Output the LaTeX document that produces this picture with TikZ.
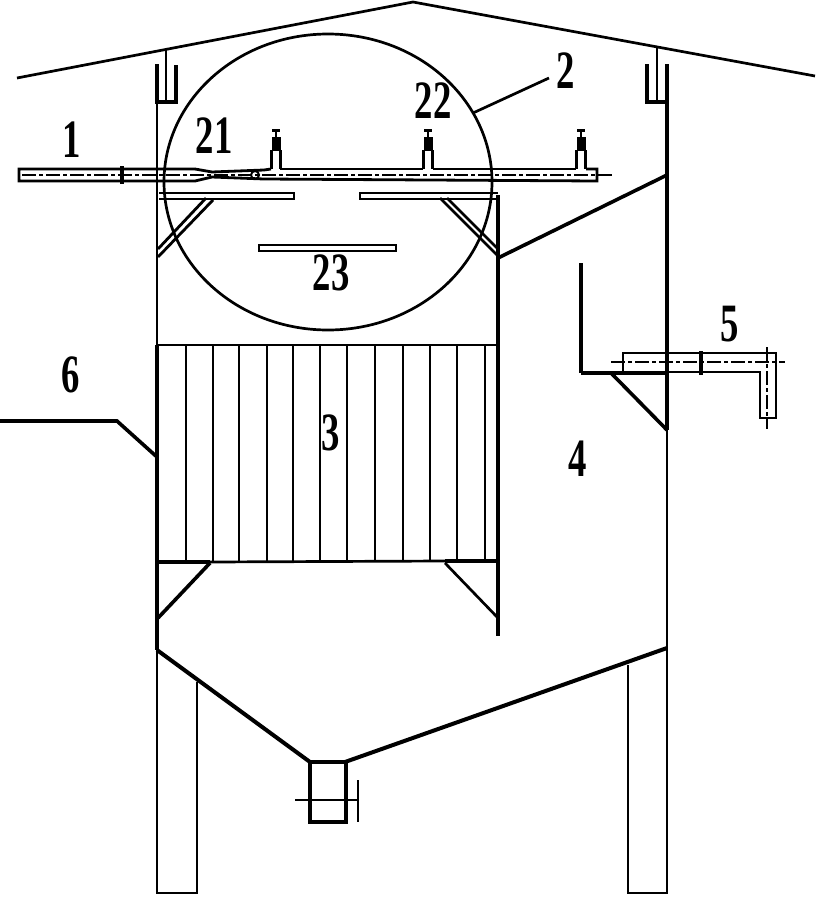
\documentclass[tikz,border=0pt]{standalone}
\usepackage{fontspec}
\setmainfont{Liberation Serif}
\tikzset{
    numlabel/.style={font=\bfseries\fontsize{54}{54}\selectfont, xscale=0.68, inner sep=0pt},
    thinline/.style={line width=2pt},
    wallline/.style={line width=2.7pt},
    thickline/.style={line width=3.6pt},
    axisline/.style={line width=1.8pt, dash pattern=on 14pt off 3pt on 4pt off 3pt},
    pipeline/.style={line width=2.8pt, line join=miter}
}
\begin{document}
\begin{tikzpicture}[x=1pt, y=-1pt]
    \useasboundingbox (0,0) rectangle (816,897);
    % roof and hangers
    \draw[wallline] (17,78) -- (413,2) -- (815,76);
    \draw[thickline] (157,64) -- (157,102) -- (176,102) -- (176,65);
    \draw[wallline] (166,49) -- (166,102);
    \draw[thickline] (647,64) -- (647,102) -- (667,102) -- (667,64);
    \draw[wallline] (657,47) -- (657,102);
    % walls
    \draw[wallline] (157,102) -- (157,345);
    \draw[thickline] (157,345) -- (157,650);
    \draw[thinline] (157,650) -- (157,893) -- (197,893) -- (197,682);
    \draw[thickline] (667,102) -- (667,430);
    \draw[wallline] (667,430) -- (667,648);
    \draw[thinline] (667,648) -- (667,893) -- (628,893) -- (628,665);
    \draw[thickline] (498,195) -- (498,636);
    \draw[thickline] (498,258) -- (667,175);
    % hopper
    \draw[line width=4pt] (157,650) -- (310,762);
    \draw[line width=4pt] (345,762) -- (667,648);
    \draw[line width=4.4pt] (310,762) rectangle (346,822);
    \draw[thinline] (295,800) -- (358,800);
    \draw[wallline] (358,780) -- (358,822);
    % heat exchanger
    \draw[thinline] (157,345) -- (498,345);
    \draw[line width=4pt] (157,562) -- (210,562);
    \draw[wallline] (210,562) -- (445,561);
    \draw[line width=4pt] (445,561) -- (498,561);
    \foreach \tx in {186,213,239,267,293,320,347,375,403,430,457,485}
        \draw[thinline] (\tx,345) -- (\tx,561);
    \draw[thickline] (210,563) -- (158,618);
    \draw[wallline] (445,563) -- (498,618);
    % baffles
    \draw[pipeline] (159,193) -- (294,193) -- (294,199) -- (159,199);
    \draw[pipeline] (498,193) -- (360,193) -- (360,199) -- (498,199);
    \draw[pipeline] (259,245) rectangle (396,251);
    \draw[pipeline] (213,200) -- (158,257);
    \draw[pipeline] (206,198) -- (158,249);
    \draw[pipeline] (440,198) -- (498,256);
    \draw[pipeline] (447,198) -- (498,249);
    % circle and leader
    \draw[wallline] (328,182) ellipse [x radius=164, y radius=148];
    \draw[wallline] (473,113) -- (549,78);
    % burner pipe
    \draw[pipeline] (195,169) -- (19,169) -- (19,181) -- (195,181) -- (212,177) -- (264,179)
        -- (597,181) -- (597,169) -- (586,169);
    \draw[pipeline] (195,169) -- (212,172) -- (264,170) -- (271,169);
    \draw[pipeline] (280,169) -- (423,169);
    \draw[pipeline] (433,169) -- (576,169);
    \draw[line width=4pt] (122,166) -- (122,184);
    \draw[thinline] (255,175) circle [radius=4];
    \draw[axisline] (22,175) -- (612,175);
    \foreach \nx in {276,428,581}
    {
        \draw[wallline] (\nx-4.5,150) -- (\nx-4.5,169);
        \draw[wallline] (\nx+4.5,150) -- (\nx+4.5,169);
        \fill (\nx-4.5,137) rectangle (\nx+4.5,151);
        \draw[wallline] (\nx,130) -- (\nx,138);
        \draw[wallline] (\nx-4,130.5) -- (\nx+4,130.5);
    }
    % outlet 5
    \draw[thickline] (581,263) -- (581,373);
    \draw[line width=4.4pt] (581,373) -- (667,373);
    \draw[thickline] (612,374) -- (667,430);
    \draw[wallline] (623,372) -- (623,353) -- (776,353) -- (776,418) -- (760,418) -- (760,372) -- (667,372);
    \draw[line width=4.4pt] (701,351) -- (701,375);
    \draw[axisline] (611,362) -- (785,362);
    \draw[axisline] (767,347) -- (767,429);
    % number 6 leader
    \draw[thickline] (0,421) -- (117,421) -- (157,457);
    % labels
    \node[numlabel] (lblone) at (72,140) {1};
    \node[numlabel] (lbltwo) at (566,71) {2};
    \node[numlabel] (lblthree) at (331,433) {3};
    \node[numlabel] (lblfour) at (578,459) {4};
    \node[numlabel] (lblfive) at (730,324) {5};
    \node[numlabel] (lblsix) at (71,375) {6};
    \node[numlabel] (lbltwoone) at (214,136) {21};
    \node[numlabel] (lbltwotwo) at (433,101) {22};
    \node[numlabel] (lbltwothree) at (331,273) {23};
\end{tikzpicture}
\end{document}
